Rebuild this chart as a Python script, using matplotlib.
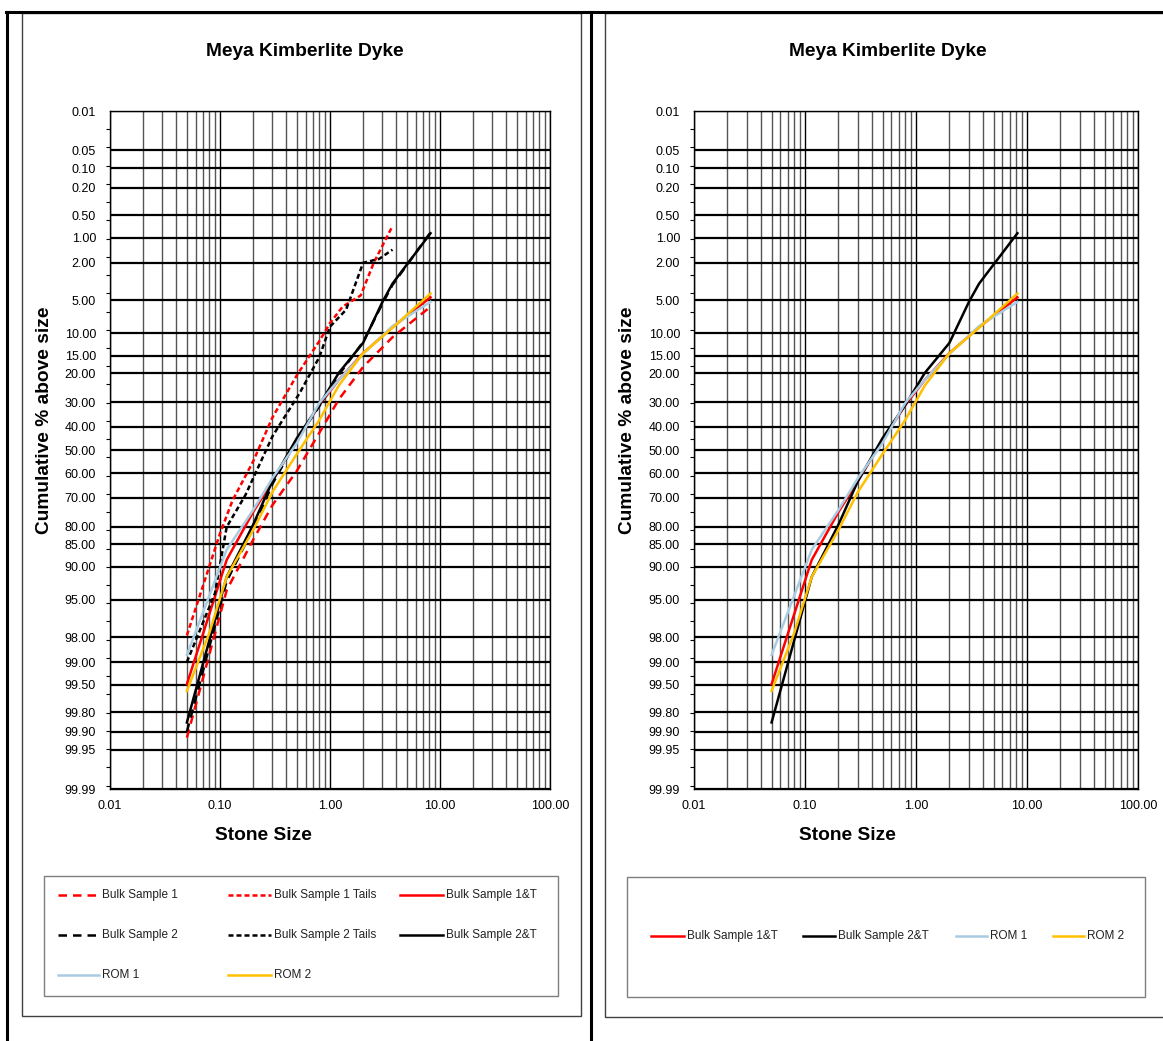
#--------------------------------->[IMPORT]<------------------------------------------#
import numpy as np
import matplotlib
matplotlib.use('Agg')
import matplotlib.pyplot as plt
from matplotlib.lines import Line2D
from matplotlib.patches import Rectangle
from matplotlib.ticker import FixedLocator, FixedFormatter, LogLocator, NullFormatter
from statistics import NormalDist
#-------------------------------------------------------------------------------------#

plt.rcParams['font.family'] = ['Liberation Sans', 'DejaVu Sans']

#--------------------------------->[DATA]<--------------------------------------------#
# stone size (x) and cumulative % above size (y) for each sample
bs1_x = [0.05, 0.115, 0.2, 0.3, 0.5, 0.8, 1.2, 2.0, 3.7, 8.2]
bs1_y = [99.92, 93.8, 83.8, 72.7, 59.0, 42.5, 29.0, 18.1, 10.8, 5.8]

bs1t_x = [0.05, 0.1, 0.13, 0.2, 0.3, 0.5, 0.8, 1.0, 1.3, 1.9, 2.5, 3.7]
bs1t_y = [97.9, 82.0, 71.0, 55.0, 36.0, 20.6, 11.6, 8.2, 5.8, 4.5, 2.0, 0.7]

bs1_all_x = [0.05, 0.115, 0.2, 0.3, 0.5, 0.8, 1.2, 2.0, 3.7, 8.2]
bs1_all_y = [99.49, 88.6, 75.2, 63.3, 45.6, 31.1, 22.1, 14.4, 8.9, 4.7]

bs2_x = [0.05, 0.115, 0.2, 0.3, 0.5, 0.8, 1.2, 2.0, 3.0, 3.7, 8.2]
bs2_y = [99.9, 92.5, 80.5, 64.5, 45.5, 31.5, 20.5, 11.8, 5.4, 3.5, 0.85]

bs2t_x = [0.05, 0.09, 0.115, 0.17, 0.3, 0.53, 0.8, 1.0, 1.4, 2.0, 2.8, 3.7]
bs2t_y = [99.0, 94.2, 80.1, 69.0, 44.0, 26.6, 15.4, 8.8, 6.2, 2.0, 1.8, 1.4]

bs2_all_x = [0.05, 0.115, 0.2, 0.3, 0.5, 0.8, 1.2, 2.0, 3.0, 3.7, 8.2]
bs2_all_y = [99.86, 91.8, 79.4, 63.3, 44.8, 31.1, 19.9, 12.0, 5.2, 3.4, 0.87]

rom1_x = [0.05, 0.115, 0.2, 0.3, 0.5, 0.8, 1.2, 2.0, 3.7, 8.2]
rom1_y = [98.77, 86.3, 74.5, 62.1, 46.9, 30.3, 22.1, 14.6, 8.7, 5.2]

rom2_x = [0.05, 0.08, 0.115, 0.2, 0.3, 0.5, 0.8, 1.2, 2.0, 3.7, 8.2]
rom2_y = [99.59, 97.76, 91.8, 81.0, 67.7, 51.7, 37.1, 24.0, 14.4, 9.0, 4.3]

y_ticks = [0.01, 0.05, 0.10, 0.20, 0.50, 1.00, 2.00, 5.00, 10.00, 15.00, 20.00,
           30.00, 40.00, 50.00, 60.00, 70.00, 80.00, 85.00, 90.00, 95.00, 98.00,
           99.00, 99.50, 99.80, 99.90, 99.95, 99.99]
x_ticks = [0.01, 0.1, 1, 10, 100]
#-------------------------------------------------------------------------------------#

#--------------------------------->[STYLES]<------------------------------------------#
RED = '#FF0000'
BLUE = '#A9CCE3'
GOLD = '#FFC000'
LONG = (0, (3.4, 2.4))
SHORT = (0, (2.0, 1.2))
LW = 1.8

left_series = [
    ('Bulk Sample 1', bs1_x, bs1_y, RED, LONG),
    ('Bulk Sample 1 Tails', bs1t_x, bs1t_y, RED, SHORT),
    ('Bulk Sample 1&T', bs1_all_x, bs1_all_y, RED, '-'),
    ('Bulk Sample 2', bs2_x, bs2_y, 'black', LONG),
    ('Bulk Sample 2 Tails', bs2t_x, bs2t_y, 'black', SHORT),
    ('Bulk Sample 2&T', bs2_all_x, bs2_all_y, 'black', '-'),
    ('ROM 1', rom1_x, rom1_y, BLUE, '-'),
    ('ROM 2', rom2_x, rom2_y, GOLD, '-'),
]
right_series = [s for s in left_series if s[4] == '-']
#-------------------------------------------------------------------------------------#

#--------------------------------->[PROBABILITY SCALE]<-------------------------------#
_nd = NormalDist()
_ppf = np.vectorize(_nd.inv_cdf, otypes=[float])
_cdf = np.vectorize(_nd.cdf, otypes=[float])


def prob_fwd(p):
    p = np.clip(np.asarray(p, dtype=float) / 100.0, 1e-9, 1 - 1e-9)
    return _ppf(p)


def prob_inv(z):
    return 100.0 * _cdf(np.asarray(z, dtype=float))


# small tick marks on the y axis every 0.2 standard deviations from the top
z_top = float(prob_fwd(0.01))
minor_p = list(prob_inv(z_top + 0.2 * np.arange(38)))
#-------------------------------------------------------------------------------------#

#--------------------------------->[PLOTTING]<----------------------------------------#
W, H = 1163, 1041
fig = plt.figure(figsize=(W / 100, H / 100), dpi=100)


def fx(x):
    return x / W


def fy(y):
    return 1 - y / H


def setup(ax):
    ax.set_xscale('log')
    ax.set_yscale('function', functions=(prob_fwd, prob_inv))
    ax.set_xlim(0.01, 100)
    ax.set_ylim(99.99, 0.01)
    ax.yaxis.set_major_locator(FixedLocator(y_ticks))
    ax.yaxis.set_major_formatter(FixedFormatter([f'{t:.2f}' for t in y_ticks]))
    ax.yaxis.set_minor_locator(FixedLocator(minor_p))
    ax.yaxis.set_minor_formatter(NullFormatter())
    ax.xaxis.set_major_locator(FixedLocator(x_ticks))
    ax.xaxis.set_major_formatter(FixedFormatter([f'{t:.2f}' for t in x_ticks]))
    ax.xaxis.set_minor_locator(LogLocator(base=10, subs=np.arange(2, 10)))
    ax.xaxis.set_minor_formatter(NullFormatter())
    ax.grid(axis='y', which='major', color='black', lw=1.6)
    ax.grid(axis='x', which='major', color='black', lw=1.0)
    ax.grid(axis='x', which='minor', color='#555555', lw=1.0)
    ax.tick_params(axis='y', which='major', length=0, pad=10, labelsize=9)
    ax.tick_params(axis='y', which='minor', length=3, width=0.8, direction='out')
    ax.tick_params(axis='x', which='both', length=0, pad=8, labelsize=9)
    for sp in ax.spines.values():
        sp.set_color('black')
        sp.set_linewidth(1.0)


def draw_legend(entries, row_y, box):
    x0, y0, x1, y1 = box
    fig.add_artist(Rectangle((fx(x0), fy(y1)), fx(x1 - x0), (y1 - y0) / H,
                             transform=fig.transFigure, fill=False,
                             edgecolor='#7f7f7f', lw=1.0))
    for (label, color, ls), (hx0, hx1, yy) in zip(entries, row_y):
        fig.add_artist(Line2D([fx(hx0), fx(hx1)], [fy(yy), fy(yy)],
                              transform=fig.transFigure, color=color,
                              linestyle=ls, lw=LW))
        fig.text(fx(hx1 + 3), fy(yy), label, fontsize=8.5, va='center', ha='left',
                 color='#222222')


# page frame (table borders and chart areas)
fig.add_artist(Line2D([fx(6), fx(W)], [fy(12), fy(12)], transform=fig.transFigure,
                      color='black', lw=2.2))
for xx in (7, 591):
    fig.add_artist(Line2D([fx(xx), fx(xx)], [fy(12), 0], transform=fig.transFigure,
                          color='black', lw=2.2))
fig.add_artist(Rectangle((fx(22), fy(1016)), fx(581 - 22), (1016 - 13) / H,
                         transform=fig.transFigure, fill=False,
                         edgecolor='#404040', lw=1.0))
fig.add_artist(Rectangle((fx(605), fy(1017)), fx(1175 - 605), (1017 - 13) / H,
                         transform=fig.transFigure, fill=False,
                         edgecolor='#404040', lw=1.0))

# left chart: all samples
ax1 = fig.add_axes([fx(110), fy(789), fx(440), 678 / H])
setup(ax1)
for label, xs, ys, color, ls in left_series:
    ax1.plot(xs, ys, color=color, linestyle=ls, lw=LW, label=label)

# right chart: combined samples and ROM
ax2 = fig.add_axes([fx(694), fy(789), fx(444), 678 / H])
setup(ax2)
for label, xs, ys, color, ls in right_series:
    ax2.plot(xs, ys, color=color, linestyle=ls, lw=LW, label=label)

# titles and axis labels
for cx, ylx, xlx in ((305, 45, 263), (888, 628, 847)):
    fig.text(fx(cx), fy(51), 'Meya Kimberlite Dyke', fontsize=13.8,
             fontweight='bold', ha='center', va='center')
    fig.text(fx(ylx), fy(420), 'Cumulative % above size', fontsize=13.8,
             fontweight='bold', ha='center', va='center', rotation=90)
    fig.text(fx(xlx), fy(835), 'Stone Size', fontsize=13.8,
             fontweight='bold', ha='center', va='center')

# legends
left_entries = [(s[0], s[3], s[4]) for s in left_series]
left_pos = []
for row, yy in enumerate((895, 935, 975)):
    for col, (h0, h1) in enumerate(((58, 99), (228, 271), (400, 443))):
        left_pos.append((h0, h1, yy))
draw_legend(left_entries, left_pos, (44, 876, 558, 996))

right_entries = [(s[0], s[3], s[4]) for s in right_series]
right_pos = [(651, 684, 936), (803, 835, 936), (956, 987, 936), (1053, 1084, 936)]
draw_legend(right_entries, right_pos, (627, 877, 1145, 997))

fig.savefig('out.png', dpi=100)
#-------------------------------------------------------------------------------------#
